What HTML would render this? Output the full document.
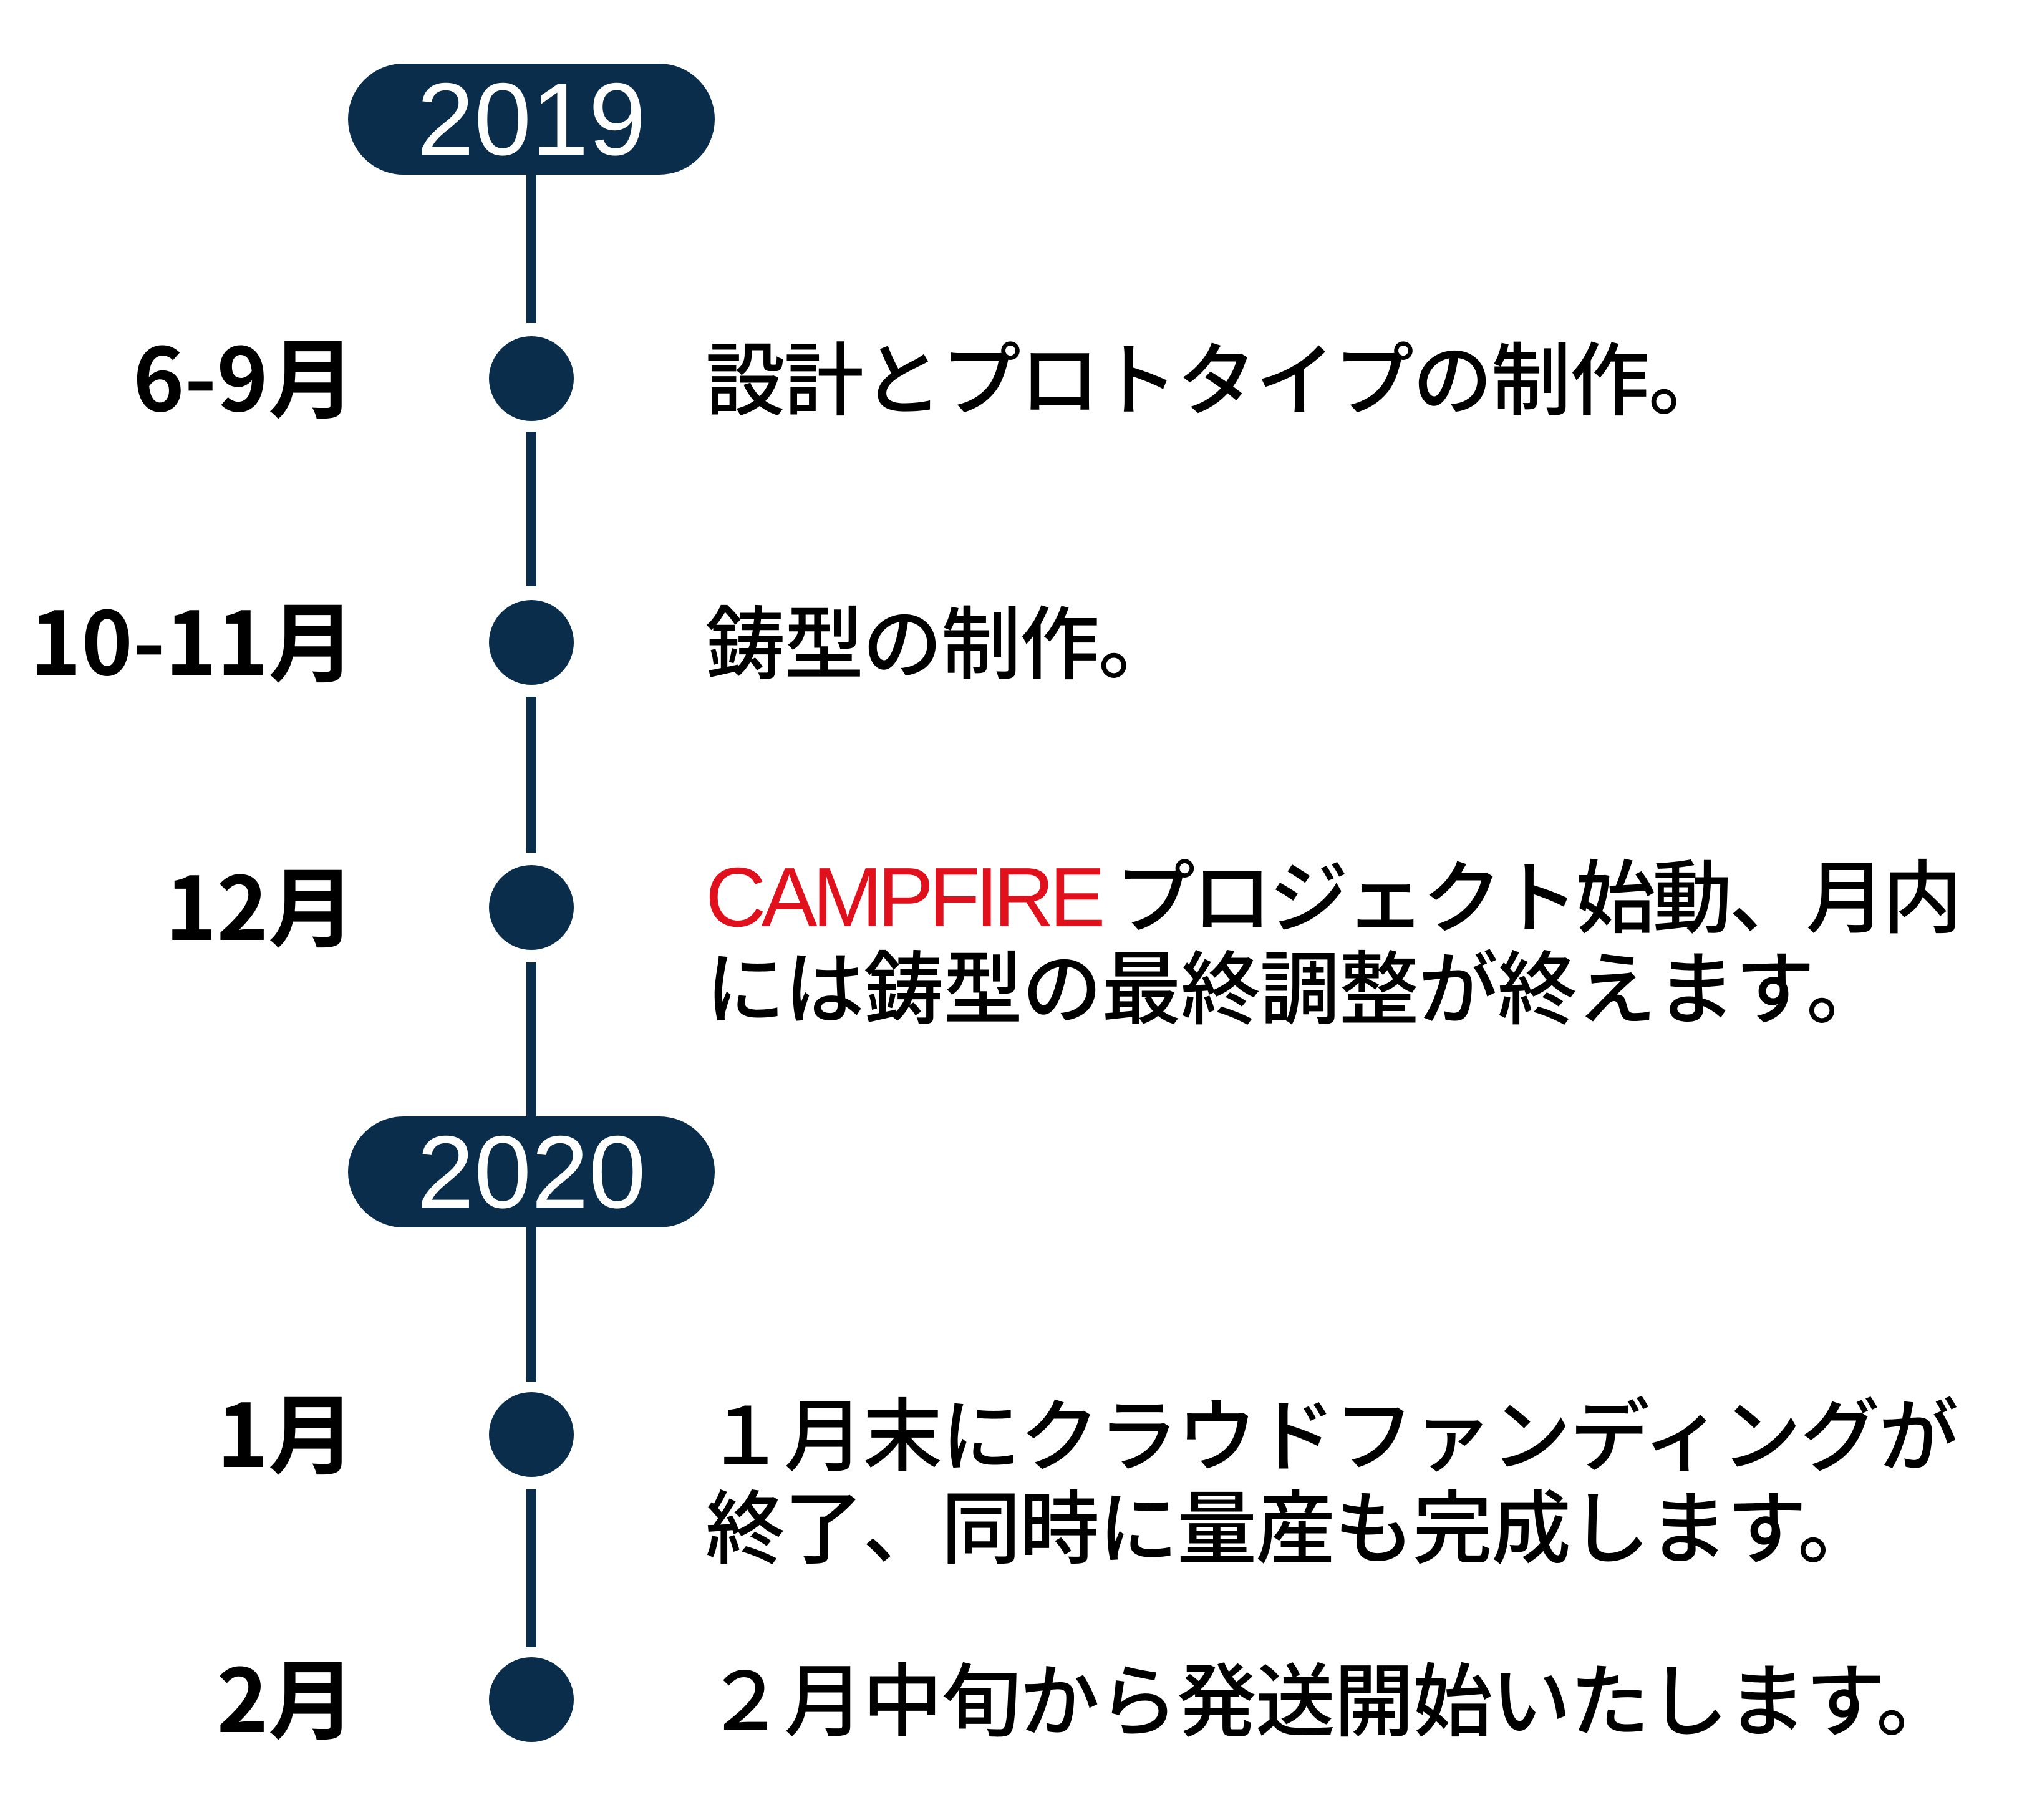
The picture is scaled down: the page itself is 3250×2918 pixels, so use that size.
<!DOCTYPE html>
<html><head><meta charset="utf-8"><style>
body{margin:0;width:3250px;height:2918px;background:#fff;position:relative;overflow:hidden;font-family:"Liberation Sans","Noto Sans CJK JP",sans-serif}
.seg{position:absolute;left:844px;width:16px;background:#0b2d4c}
.dot{position:absolute;left:784px;width:136px;height:136px;border-radius:50%;background:#0b2d4c}
.pill{position:absolute;left:558px;width:588px;height:178px;border-radius:89px;background:#0b2d4c;color:#fff;font-size:165px;line-height:178px;text-align:center;font-family:"Liberation Sans",sans-serif;font-weight:normal}
.lab{position:absolute;right:2680px;font-size:140px;line-height:1;font-weight:bold;white-space:nowrap;color:#000;font-family:"Noto Sans CJK JP",sans-serif}
.t{position:absolute;left:1131px;font-size:128px;line-height:1;white-space:nowrap;color:#000;font-weight:500;font-family:"Noto Sans CJK JP",sans-serif}
.red{color:#e0101c;font-family:"Liberation Sans",sans-serif;font-weight:normal;font-size:135px;letter-spacing:-8px}
</style></head><body>
<div class="pill" style="top:102px">2019</div>
<div class="pill" style="top:1790px">2020</div>
<div class="seg" style="top:270px;height:248px"></div>
<div class="seg" style="top:692px;height:248px"></div>
<div class="seg" style="top:1117px;height:250px"></div>
<div class="seg" style="top:1543px;height:260px"></div>
<div class="seg" style="top:1950px;height:265px"></div>
<div class="seg" style="top:2388px;height:253px"></div>
<div class="dot" style="top:539px"></div>
<div class="dot" style="top:962px"></div>
<div class="dot" style="top:1387px"></div>
<div class="dot" style="top:2232px"></div>
<div class="dot" style="top:2657px"></div>

<div class="lab" style="top:529px">6-9月</div>
<div class="lab" style="top:952px">10-11月</div>
<div class="lab" style="top:1377px">12月</div>
<div class="lab" style="top:2222px">1月</div>
<div class="lab" style="top:2647px">2月</div>

<div class="t" style="top:536px;letter-spacing:-2px">設計とプロトタイプの制作。</div>
<div class="t" style="top:959px;letter-spacing:-2px">鋳型の制作。</div>
<div class="t" style="top:1366px;letter-spacing:-5px"><span class="red">CAMPFIRE</span> プロジェクト始動、月内</div>
<div class="t" style="top:1512px;letter-spacing:-1px">には鋳型の最終調整が終えます。</div>
<div class="t" style="top:2229px;letter-spacing:-2px">１月末にクラウドファンディングが</div>
<div class="t" style="top:2377px;letter-spacing:-2px">終了、同時に量産も完成します。</div>
<div class="t" style="top:2654px;letter-spacing:-2px">２月中旬から発送開始いたします。</div>
</body></html>
